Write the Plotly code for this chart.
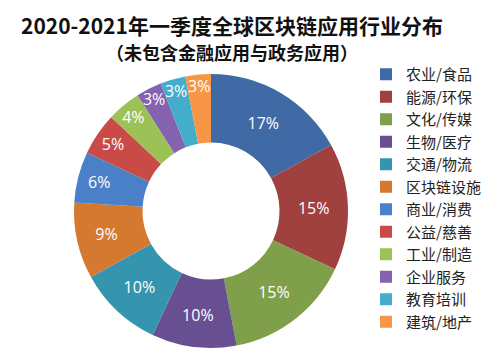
import plotly.graph_objects as go

categories = ["农业/食品", "能源/环保", "文化/传媒", "生物/医疗", "交通/物流", "区块链设施",
              "商业/消费", "公益/慈善", "工业/制造", "企业服务", "教育培训", "建筑/地产"]
values = [17, 15, 15, 10, 10, 9, 6, 5, 4, 3, 3, 3]
colors = ["#3F6AA5", "#A0403F", "#7F9F4A", "#684F92", "#3594AE", "#D4792F",
          "#4A80C8", "#C84B48", "#9CC157", "#8462B0", "#45ADCC", "#F79646"]

title_text = "2020-2021年一季度全球区块链应用行业分布"
subtitle_text = "（未包含金融应用与政务应用）"

W, H = 495, 358
off = 8  # page body margin offset
cx, cy, r = 211 - off, 211 - off, 137

fig = go.Figure(go.Pie(
    labels=categories,
    values=values,
    text=[f"{v}%" for v in values],
    textinfo="text",
    textposition="inside",
    insidetextorientation="horizontal",
    textfont=dict(family="Open Sans, DejaVu Sans", size=16, color="white"),
    marker=dict(colors=colors, line=dict(width=0)),
    hole=0.5,
    sort=False,
    direction="clockwise",
    rotation=0,
    domain=dict(x=[(cx - r) / W, (cx + r) / W], y=[(H - cy - r) / H, (H - cy + r) / H]),
))

fig.update_layout(
    width=W, height=H,
    margin=dict(l=0, r=0, t=0, b=0),
    paper_bgcolor="white",
    plot_bgcolor="white",
    font=dict(family="Noto Sans CJK SC"),
    uniformtext=dict(minsize=16, mode="show"),
    legend=dict(
        x=(366 - off) / W, y=1 - (58 - off) / H, xanchor="left", yanchor="top",
        font=dict(size=15, color="#222222", family="Noto Sans CJK SC"),
        bgcolor="rgba(0,0,0,0)",
    ),
    annotations=[
        dict(text=f"<b>{title_text}</b>", x=(232 - off) / W, y=1.0,
             xref="paper", yref="paper",
             showarrow=False, xanchor="center", yanchor="top",
             font=dict(size=21, color="#111111", family="Noto Sans CJK SC")),
        dict(text=f"<b>{subtitle_text}</b>", x=(232 - off) / W, y=1 - (52 - off) / H,
             xref="paper", yref="paper",
             showarrow=False, xanchor="center", yanchor="middle",
             font=dict(size=18, color="#111111", family="Noto Sans CJK SC")),
    ],
)

fig.write_html("out.html")
